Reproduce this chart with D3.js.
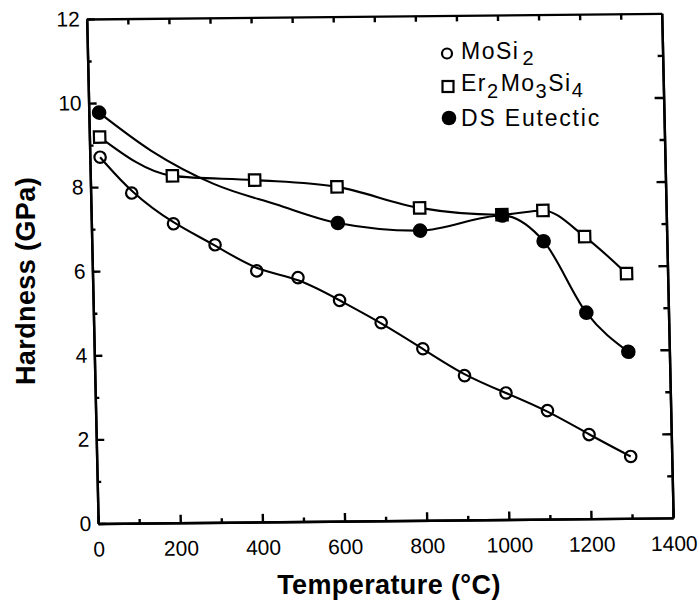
<!DOCTYPE html>
<html>
<head>
<meta charset="utf-8">
<script src="https://cdn.jsdelivr.net/npm/d3@7"></script>
<style>
  body { margin: 0; background: #fff; }
  text { font-family: "Liberation Sans", Arial, Helvetica, sans-serif; fill: #000; }
  .axis path, .axis line { stroke: #000; stroke-width: 2.4; }
  .axis text { font-size: 21px; }
</style>
</head>
<body>
<div id="chart"></div>
<script>
// hardness (GPa) vs temperature (°C)
var tempMoSi2 = [25, 100, 200, 300, 400, 500, 600, 700, 800, 900, 1000, 1100, 1200, 1300];
var hardMoSi2 = [8.71, 7.85, 7.11, 6.60, 5.97, 5.80, 5.25, 4.71, 4.08, 3.43, 3.01, 2.58, 2.00, 1.47];

var tempEr = [25, 200, 400, 600, 800, 1000, 1100, 1200, 1300];
var hardEr = [9.19, 8.25, 8.13, 7.95, 7.43, 7.25, 7.34, 6.71, 5.82];

var tempEut = [25, 600, 800, 1000, 1100, 1200, 1300];
var hardEut = [9.77, 7.09, 6.89, 7.23, 6.61, 4.90, 3.96];

// the hand-drawn DS eutectic curve, traced where it has no markers
var tempEutCurve = [25, 150, 300, 450, 600, 800, 1000, 1100, 1200, 1300];
var hardEutCurve = [9.77, 8.85, 8.05, 7.55, 7.09, 6.89, 7.23, 6.61, 4.90, 3.96];

var xTicks = [0, 200, 400, 600, 800, 1000, 1200, 1400];
var yTicks = [0, 2, 4, 6, 8, 10, 12];

var width = 575,
    height = 504.5;

var svg = d3.select("#chart")
  .append("svg")
    .attr("width", 700)
    .attr("height", 604);

// the scanned figure is a little tilted, so the frame is tilted the same way
var plot = svg.append("g")
    .attr("transform", "matrix(1,-0.0098,0.0227,1,86.7,19)");

var x = d3.scaleLinear()
  .domain([0, 1400])
  .range([0, width]);

var y = d3.scaleLinear()
  .domain([0, 12])
  .range([height, 0]);

// bottom axis: minor + major ticks, pointing inward
plot.append("g")
    .attr("class", "axis")
    .attr("transform", "translate(0," + height + ")")
    .call(d3.axisBottom(x).tickValues(d3.range(100, 1400, 200)).tickSize(-4).tickSizeOuter(0).tickFormat(""));
plot.append("g")
    .attr("class", "axis")
    .attr("transform", "translate(0," + height + ")")
    .call(d3.axisBottom(x).tickValues(xTicks).tickSize(-8).tickSizeOuter(0)
      .tickPadding(18).tickFormat(d3.format("d")));

// left axis
plot.append("g")
    .attr("class", "axis")
    .call(d3.axisLeft(y).tickValues([1, 3, 5, 7, 9, 11]).tickSize(-4).tickSizeOuter(0).tickFormat(""));
plot.append("g")
    .attr("class", "axis")
    .call(d3.axisLeft(y).tickValues(yTicks).tickSize(-8).tickSizeOuter(0)
      .tickPadding(7).tickFormat(d3.format("d")));

// top axis
plot.append("g")
    .attr("class", "axis")
    .call(d3.axisTop(x).tickValues(d3.range(100, 1400, 100)).tickSize(-6).tickSizeOuter(0).tickFormat(""));

// right axis
plot.append("g")
    .attr("class", "axis")
    .attr("transform", "translate(" + width + ",0)")
    .call(d3.axisRight(y).tickValues([1, 3, 5, 7, 9, 11]).tickSize(-5).tickSizeOuter(0).tickFormat(""));
plot.append("g")
    .attr("class", "axis")
    .attr("transform", "translate(" + width + ",0)")
    .call(d3.axisRight(y).tickValues([2, 4, 6, 8, 10]).tickSize(-9).tickSizeOuter(0).tickFormat(""));

var smooth = d3.line()
    .x(function(d) { return x(d[0]); })
    .y(function(d) { return y(d[1]); })
    .curve(d3.curveBasis);

var line = d3.line()
    .x(function(d) { return x(d[0]); })
    .y(function(d) { return y(d[1]); })
    .curve(d3.curveMonotoneX);

var moSi2 = d3.zip(tempMoSi2, hardMoSi2),
    erMoSi = d3.zip(tempEr, hardEr),
    eutectic = d3.zip(tempEut, hardEut);

plot.append("path")
    .datum(moSi2)
    .attr("d", smooth)
    .attr("fill", "none")
    .attr("stroke", "#000")
    .attr("stroke-width", 2.1);

plot.append("path")
    .datum(erMoSi)
    .attr("d", line)
    .attr("fill", "none")
    .attr("stroke", "#000")
    .attr("stroke-width", 2.1);

plot.append("path")
    .datum(d3.zip(tempEutCurve, hardEutCurve))
    .attr("d", line)
    .attr("fill", "none")
    .attr("stroke", "#000")
    .attr("stroke-width", 2.1);

// open circles
plot.append("g")
  .selectAll("circle")
  .data(moSi2)
  .enter()
  .append("circle")
    .attr("cx", function(d) { return x(d[0]); })
    .attr("cy", function(d) { return y(d[1]); })
    .attr("r", 5.7)
    .attr("fill", "none")
    .attr("stroke", "#000")
    .attr("stroke-width", 2.2);

// open squares
plot.append("g")
  .selectAll("rect")
  .data(erMoSi)
  .enter()
  .append("rect")
    .attr("x", function(d) { return x(d[0]) - 5.7; })
    .attr("y", function(d) { return y(d[1]) - 5.7; })
    .attr("width", 11.4)
    .attr("height", 11.4)
    .attr("fill", "#fff")
    .attr("stroke", "#000")
    .attr("stroke-width", 2.2);

// filled circles
plot.append("g")
  .selectAll("circle")
  .data(eutectic)
  .enter()
  .append("circle")
    .attr("cx", function(d) { return x(d[0]); })
    .attr("cy", function(d) { return y(d[1]); })
    .attr("r", 7.3)
    .attr("fill", "#000");

// legend
var legend = svg.append("g");

legend.append("circle")
    .attr("cx", 447).attr("cy", 53.5).attr("r", 5)
    .attr("fill", "none").attr("stroke", "#000").attr("stroke-width", 2.2);
legend.append("rect")
    .attr("x", 442.5).attr("y", 81).attr("width", 11).attr("height", 11)
    .attr("fill", "#fff").attr("stroke", "#000").attr("stroke-width", 2.2);
legend.append("circle")
    .attr("cx", 449).attr("cy", 118).attr("r", 7.3)
    .attr("fill", "#000");

var t1 = legend.append("text")
    .attr("x", 461).attr("y", 59)
    .attr("font-size", 23).attr("letter-spacing", 1.5);
t1.append("tspan").text("MoSi");
t1.append("tspan").attr("dy", 6).attr("dx", 3).attr("font-size", 20).text("2");

var t2 = legend.append("text")
    .attr("x", 461).attr("y", 91)
    .attr("font-size", 23).attr("letter-spacing", 1.5);
t2.append("tspan").text("Er");
t2.append("tspan").attr("dy", 7).attr("font-size", 20).text("2");
t2.append("tspan").attr("dy", -7).attr("dx", 1).text("Mo");
t2.append("tspan").attr("dy", 7).attr("font-size", 20).text("3");
t2.append("tspan").attr("dy", -7).text("Si");
t2.append("tspan").attr("dy", 6).attr("font-size", 20).text("4");

legend.append("text")
    .attr("x", 461).attr("y", 126)
    .attr("font-size", 23).attr("letter-spacing", 1.8)
    .text("DS Eutectic");

// axis titles
svg.append("text")
    .attr("x", 389)
    .attr("y", 594)
    .attr("text-anchor", "middle")
    .attr("font-size", 27)
    .attr("font-weight", "bold")
    .attr("letter-spacing", 0.4)
    .text("Temperature (°C)");

svg.append("text")
    .attr("transform", "translate(35,281) rotate(-90)")
    .attr("text-anchor", "middle")
    .attr("font-size", 27)
    .attr("font-weight", "bold")
    .attr("letter-spacing", 0.4)
    .text("Hardness (GPa)");
</script>
</body>
</html>
